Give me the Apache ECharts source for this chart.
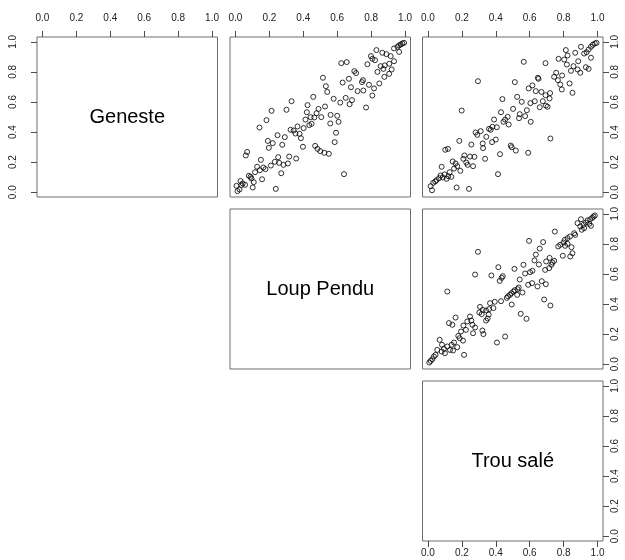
<!DOCTYPE html>
<html>
<head>
<meta charset="utf-8">
<script src="https://cdn.jsdelivr.net/npm/echarts@6/dist/echarts.min.js"></script>
<style>
  html, body { margin: 0; padding: 0; background: #fff; }
  #chart { width: 625px; height: 560px; }
</style>
</head>
<body>
<div id="chart"></div>
<script>
// Variable names shown on the diagonal
const variables = ['Geneste', 'Loup Pendu', 'Trou salé'];

// Axis ticks shared by every panel
const tickValues = [0, 0.2, 0.4, 0.6, 0.8, 1.0];

// Loup Pendu (x) vs Geneste (y)
const loupVsGeneste = [
  [0.994,0.993],[0.984,0.989],[0.974,0.982],[0.965,0.976],[0.955,0.967],[0.935,0.956],[0.965,0.933],
  [0.831,0.945],[0.866,0.927],[0.890,0.918],[0.915,0.905],[0.799,0.905],[0.807,0.887],[0.823,0.878],
  [0.778,0.851],[0.935,0.871],[0.907,0.854],[0.624,0.858],[0.656,0.865],[0.856,0.838],[0.880,0.843],
  [0.872,0.820],[0.921,0.816],[0.837,0.800],[0.906,0.787],[0.878,0.767],[0.701,0.805],[0.711,0.792],
  [0.669,0.754],[0.632,0.729],[0.752,0.745],[0.746,0.732],[0.516,0.761],[0.533,0.705],[0.541,0.667],
  [0.681,0.698],[0.720,0.672],[0.754,0.676],[0.787,0.714],[0.817,0.690],[0.848,0.723],[0.459,0.634],
  [0.579,0.621],[0.618,0.596],[0.650,0.627],[0.687,0.612],[0.673,0.585],[0.807,0.643],[0.331,0.605],
  [0.425,0.579],[0.770,0.563],[0.213,0.541],[0.301,0.548],[0.421,0.532],[0.490,0.554],[0.528,0.570],
  [0.478,0.525],[0.465,0.497],[0.443,0.499],[0.413,0.483],[0.506,0.499],[0.561,0.514],[0.600,0.508],
  [0.608,0.468],[0.559,0.457],[0.183,0.479],[0.435,0.446],[0.449,0.455],[0.402,0.426],[0.366,0.437],
  [0.142,0.430],[0.325,0.415],[0.343,0.410],[0.354,0.390],[0.378,0.388],[0.386,0.359],[0.248,0.379],
  [0.291,0.366],[0.593,0.395],[0.191,0.341],[0.220,0.326],[0.276,0.315],[0.197,0.295],[0.585,0.333],
  [0.398,0.302],[0.470,0.308],[0.484,0.288],[0.500,0.273],[0.524,0.262],[0.551,0.255],[0.069,0.268],
  [0.061,0.244],[0.252,0.233],[0.317,0.237],[0.150,0.215],[0.358,0.224],[0.232,0.202],[0.258,0.195],
  [0.283,0.182],[0.309,0.191],[0.209,0.177],[0.128,0.169],[0.165,0.164],[0.177,0.153],[0.144,0.146],
  [0.116,0.133],[0.270,0.126],[0.640,0.120],[0.079,0.109],[0.089,0.102],[0.094,0.091],[0.157,0.086],
  [0.108,0.067],[0.030,0.075],[0.043,0.058],[0.035,0.047],[0.006,0.042],[0.057,0.049],[0.102,0.031],
  [0.238,0.022],[0.024,0.018],[0.012,0.007]
];

// Trou salé (x) vs Geneste (y)
const trouVsGeneste = [
  [0.994,0.993],[0.984,0.989],[0.972,0.980],[0.961,0.967],[0.947,0.949],[0.935,0.931],[0.921,0.922],
  [0.902,0.967],[0.868,0.927],[0.813,0.945],[0.823,0.909],[0.770,0.887],[0.803,0.882],[0.886,0.871],
  [0.961,0.894],[0.565,0.867],[0.693,0.858],[0.819,0.849],[0.858,0.838],[0.882,0.816],[0.898,0.794],
  [0.931,0.831],[0.947,0.820],[0.843,0.807],[0.756,0.794],[0.791,0.776],[0.744,0.767],[0.766,0.745],
  [0.780,0.716],[0.789,0.683],[0.835,0.723],[0.852,0.661],[0.295,0.738],[0.648,0.761],[0.652,0.754],
  [0.512,0.732],[0.616,0.710],[0.594,0.690],[0.636,0.672],[0.669,0.667],[0.693,0.645],[0.720,0.659],
  [0.717,0.623],[0.677,0.605],[0.630,0.605],[0.604,0.592],[0.526,0.634],[0.553,0.601],[0.439,0.619],
  [0.695,0.576],[0.705,0.568],[0.659,0.565],[0.583,0.545],[0.502,0.554],[0.541,0.519],[0.537,0.492],
  [0.573,0.506],[0.606,0.468],[0.470,0.501],[0.455,0.483],[0.445,0.468],[0.476,0.450],[0.199,0.543],
  [0.431,0.532],[0.390,0.483],[0.281,0.397],[0.291,0.381],[0.311,0.406],[0.406,0.432],[0.360,0.421],
  [0.370,0.415],[0.380,0.435],[0.344,0.368],[0.323,0.324],[0.400,0.350],[0.378,0.333],[0.256,0.317],
  [0.185,0.341],[0.325,0.293],[0.722,0.357],[0.488,0.310],[0.494,0.299],[0.518,0.277],[0.591,0.262],
  [0.425,0.253],[0.102,0.282],[0.118,0.288],[0.215,0.244],[0.248,0.237],[0.274,0.235],[0.209,0.222],
  [0.337,0.222],[0.226,0.197],[0.234,0.182],[0.266,0.173],[0.146,0.204],[0.163,0.191],[0.173,0.173],
  [0.154,0.157],[0.191,0.142],[0.081,0.169],[0.128,0.133],[0.098,0.118],[0.120,0.106],[0.138,0.102],
  [0.413,0.120],[0.075,0.111],[0.065,0.093],[0.051,0.080],[0.043,0.071],[0.031,0.062],[0.016,0.040],
  [0.024,0.013],[0.169,0.031],[0.242,0.022],[0.087,0.098],[0.110,0.089]
];

// Trou salé (x) vs Loup Pendu (y)
const trouVsLoup = [
  [0.984,0.989],[0.976,0.982],[0.969,0.973],[0.957,0.964],[0.941,0.956],[0.931,0.942],[0.917,0.927],
  [0.902,0.964],[0.882,0.938],[0.898,0.916],[0.921,0.905],[0.907,0.894],[0.961,0.920],[0.951,0.933],
  [0.748,0.882],[0.596,0.820],[0.295,0.747],[0.862,0.871],[0.868,0.860],[0.837,0.849],[0.823,0.838],
  [0.807,0.827],[0.799,0.809],[0.780,0.794],[0.768,0.783],[0.823,0.800],[0.809,0.787],[0.846,0.778],
  [0.852,0.738],[0.839,0.716],[0.795,0.721],[0.679,0.812],[0.659,0.769],[0.636,0.729],[0.628,0.690],
  [0.654,0.663],[0.717,0.707],[0.697,0.683],[0.744,0.687],[0.734,0.676],[0.728,0.661],[0.715,0.639],
  [0.691,0.627],[0.415,0.645],[0.510,0.634],[0.563,0.661],[0.278,0.596],[0.374,0.590],[0.441,0.585],
  [0.435,0.574],[0.423,0.554],[0.541,0.563],[0.573,0.603],[0.602,0.612],[0.616,0.621],[0.671,0.552],
  [0.695,0.532],[0.614,0.539],[0.591,0.528],[0.646,0.517],[0.114,0.483],[0.535,0.510],[0.528,0.499],
  [0.512,0.492],[0.504,0.483],[0.492,0.472],[0.484,0.461],[0.472,0.452],[0.465,0.441],[0.557,0.477],
  [0.526,0.461],[0.431,0.419],[0.494,0.397],[0.685,0.430],[0.722,0.390],[0.394,0.415],[0.366,0.406],
  [0.386,0.373],[0.343,0.357],[0.360,0.366],[0.323,0.361],[0.303,0.344],[0.317,0.333],[0.307,0.381],
  [0.358,0.330],[0.352,0.304],[0.343,0.290],[0.248,0.317],[0.256,0.290],[0.232,0.284],[0.209,0.257],
  [0.163,0.310],[0.124,0.273],[0.144,0.262],[0.547,0.335],[0.581,0.302],[0.262,0.262],[0.278,0.244],
  [0.321,0.224],[0.327,0.200],[0.266,0.206],[0.224,0.228],[0.195,0.217],[0.179,0.188],[0.207,0.157],
  [0.187,0.173],[0.407,0.144],[0.455,0.184],[0.069,0.162],[0.083,0.129],[0.094,0.102],[0.114,0.118],
  [0.140,0.129],[0.154,0.144],[0.173,0.113],[0.148,0.091],[0.130,0.095],[0.081,0.084],[0.100,0.073],
  [0.055,0.095],[0.045,0.062],[0.035,0.051],[0.026,0.033],[0.016,0.022],[0.008,0.011],[0.213,0.062]
];

// ---- layout of the 3x3 matrix (upper triangle + diagonal) ----
const colLeft = [37, 230, 422.5];
const rowTop = [37, 209, 381];
const panelW = 180.5;
const panelH = 160;
const axisMin = -0.032, axisMax = 1.032;
const fontFamily = '"Liberation Sans", Arial, Helvetica, sans-serif';

// panels: [row, col]
const panels = [
  [0, 0], [0, 1], [0, 2],
  [1, 1], [1, 2],
  [2, 2]
];

const fmt = v => v.toFixed(1);

function grid(r, c) {
  return {
    left: colLeft[c], top: rowTop[r], width: panelW, height: panelH,
    show: true, borderColor: '#6e6e6e', borderWidth: 1, backgroundColor: 'transparent'
  };
}

function axis(kind, gridIndex, position, showTicks, labelMargin) {
  const a = {
    type: 'value', gridIndex, position, min: axisMin, max: axisMax,
    axisLine: { show: false, onZero: false },
    splitLine: { show: false },
    axisTick: {
      show: showTicks, inside: false, length: 6, customValues: tickValues,
      lineStyle: { color: '#4a4a4a', width: 1 }
    },
    axisLabel: {
      show: showTicks, customValues: tickValues, formatter: fmt,
      margin: labelMargin, fontSize: 10, color: '#222', fontFamily
    }
  };
  if (kind === 'y') a.axisLabel.rotate = 90;
  return a;
}

const grids = panels.map(([r, c]) => grid(r, c));

// x axes: top on first row, bottom on last row (only drawn panel there is the diagonal)
const xAxes = panels.map(([r, c], i) => {
  if (r === 0) return axis('x', i, 'top', true, 14);
  if (r === 2) return axis('x', i, 'bottom', true, 7);
  return axis('x', i, 'bottom', false, 0);
});

// y axes: left for first column, right for last column
const yAxes = panels.map(([r, c], i) => {
  if (c === 0) return axis('y', i, 'left', true, 19);
  if (c === 2) return axis('y', i, 'right', true, 7);
  return axis('y', i, 'left', false, 0);
});

const pointStyle = {
  type: 'scatter',
  symbol: 'circle',
  symbolSize: 5,
  itemStyle: { color: 'rgba(0,0,0,0)', borderColor: '#000', borderWidth: 1 },
  emphasis: { disabled: true },
  silent: true
};

const series = [
  Object.assign({ xAxisIndex: 1, yAxisIndex: 1, data: loupVsGeneste }, pointStyle),
  Object.assign({ xAxisIndex: 2, yAxisIndex: 2, data: trouVsGeneste }, pointStyle),
  Object.assign({ xAxisIndex: 4, yAxisIndex: 4, data: trouVsLoup }, pointStyle)
];

// variable names centred in the diagonal panels
const diagonalText = variables.map((name, k) => ({
  type: 'text',
  x: colLeft[k] + panelW / 2,
  y: rowTop[k] + panelH / 2,
  style: {
    text: name, fill: '#000', fontSize: 20, fontFamily,
    align: 'center', verticalAlign: 'middle'
  },
  silent: true
}));

const chart = echarts.init(document.getElementById('chart'), null, { renderer: 'canvas' });
chart.setOption({
  animation: false,
  backgroundColor: '#fff',
  grid: grids,
  xAxis: xAxes,
  yAxis: yAxes,
  series,
  graphic: diagonalText
});
</script>
</body>
</html>
